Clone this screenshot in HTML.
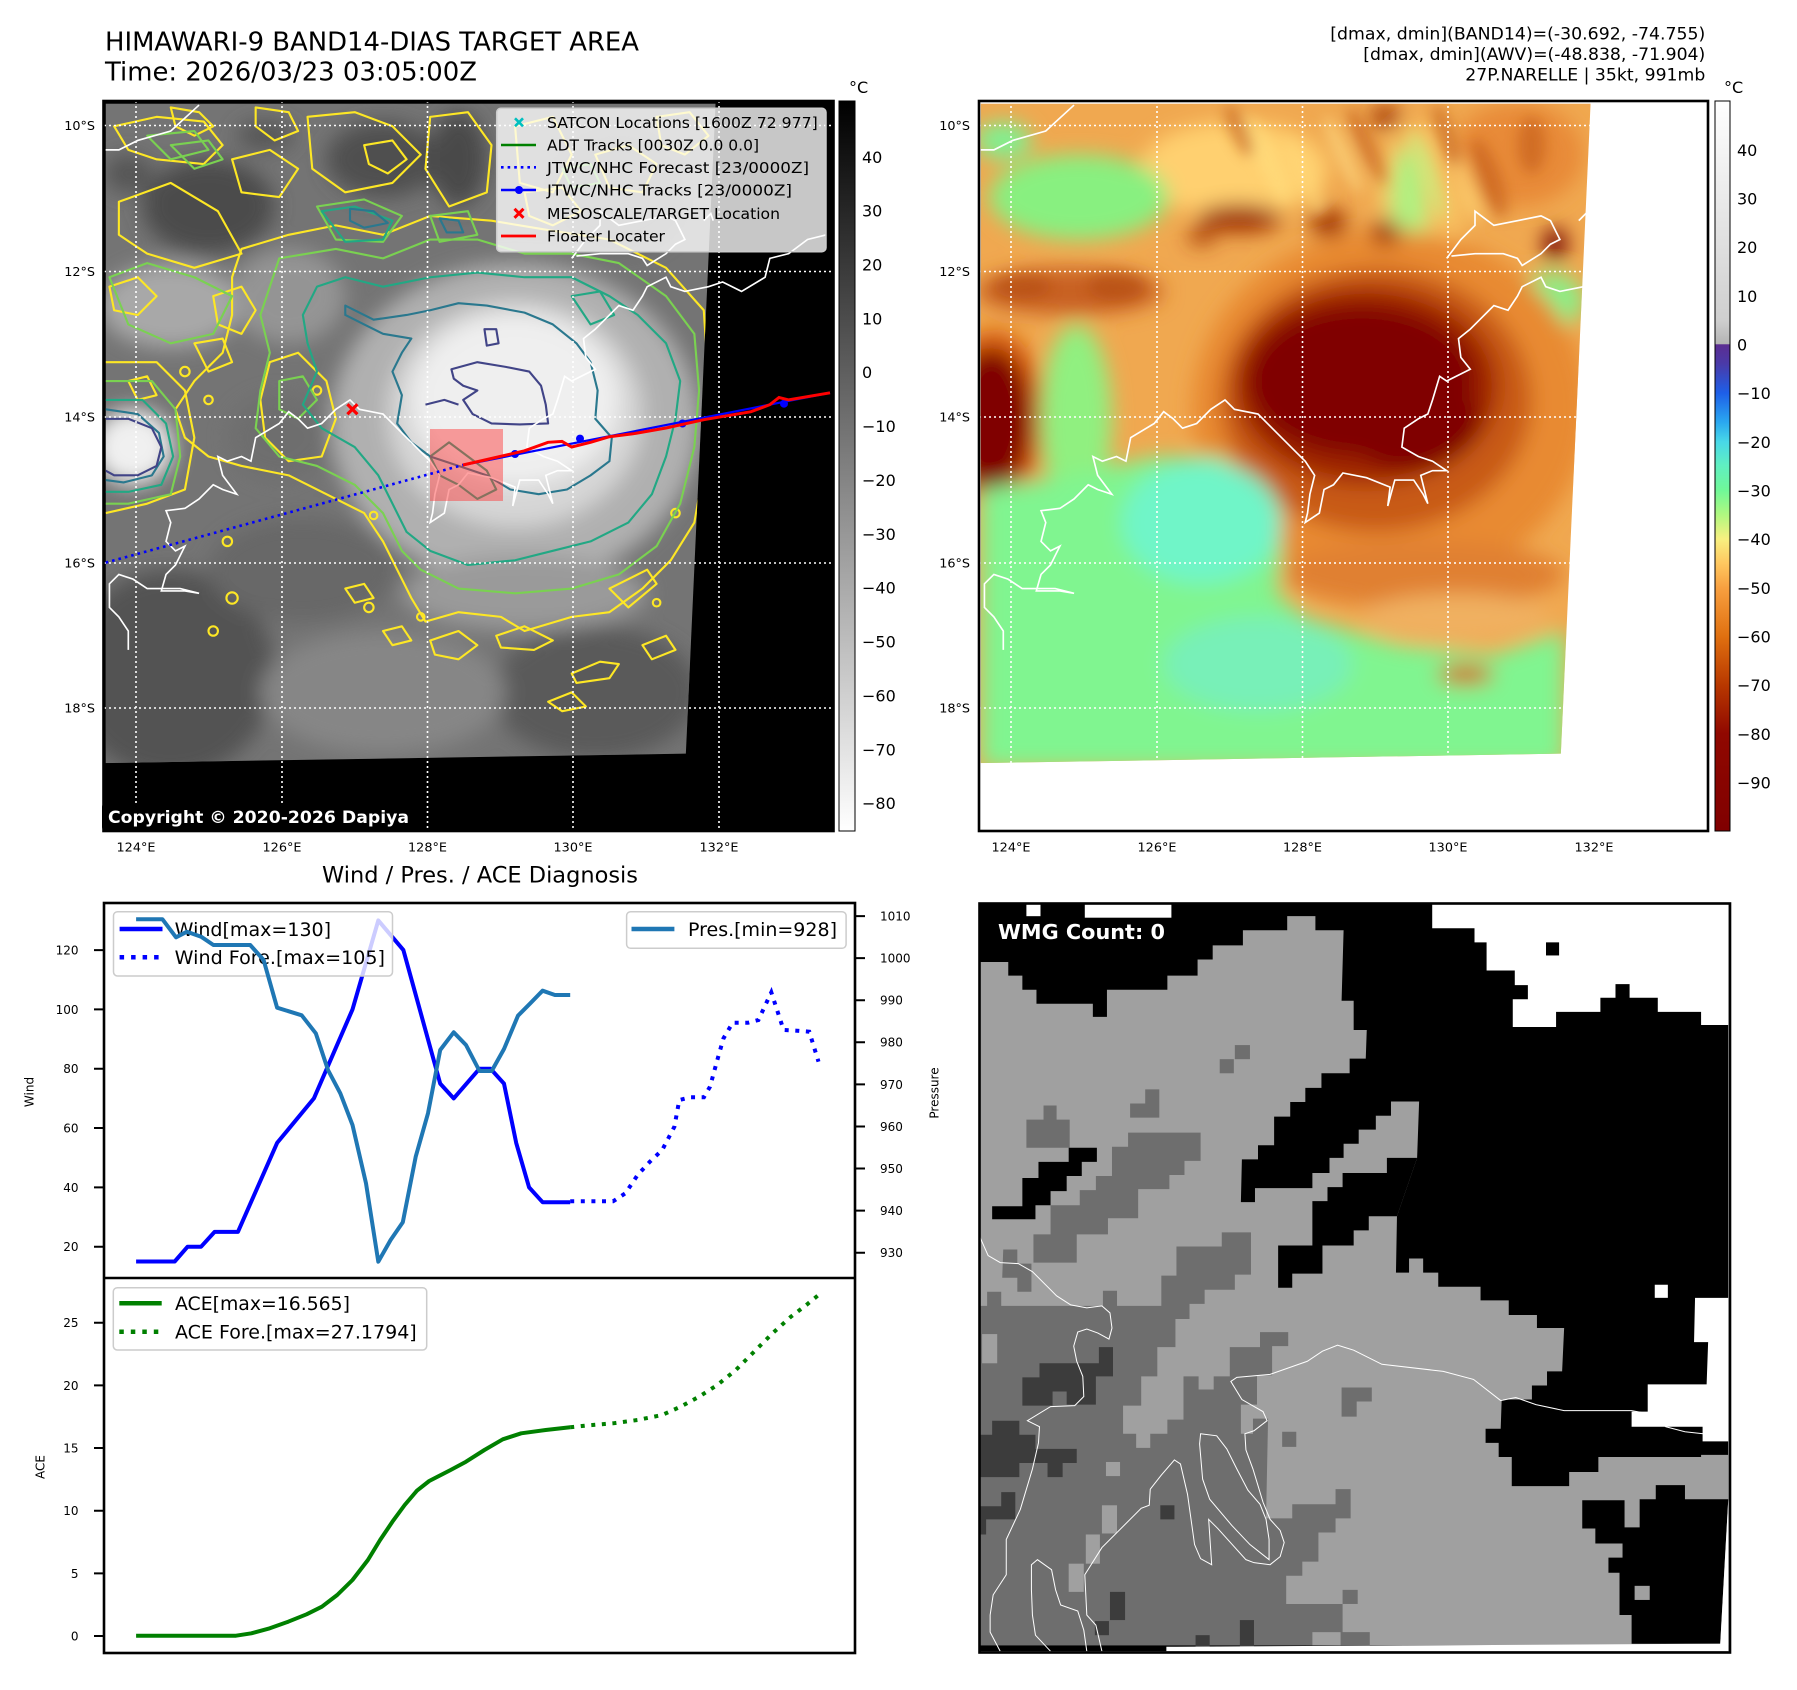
<!DOCTYPE html>
<html><head><meta charset="utf-8"><style>
html,body{margin:0;padding:0;background:#fff;}
svg{display:block;}
text{font-family:"DejaVu Sans","Liberation Sans",sans-serif;}
</style></head><body>
<svg width="1797" height="1690" viewBox="0 0 1797 1690" xmlns="http://www.w3.org/2000/svg">
<defs>
<linearGradient id="cb1" x1="0" y1="0" x2="0" y2="1"><stop offset="0" stop-color="#000"/><stop offset="1" stop-color="#fff"/></linearGradient>
<linearGradient id="cb2" x1="0" y1="0" x2="0" y2="1">
<stop offset="0" stop-color="#ffffff"/><stop offset="0.30" stop-color="#cfcfcf"/><stop offset="0.333" stop-color="#b4b4b4"/>
<stop offset="0.3335" stop-color="#5c2d91"/><stop offset="0.36" stop-color="#4a3aa8"/><stop offset="0.40" stop-color="#1e5fe8"/>
<stop offset="0.44" stop-color="#2aa8f0"/><stop offset="0.4667" stop-color="#48d8e8"/><stop offset="0.50" stop-color="#60f0c0"/>
<stop offset="0.5333" stop-color="#70f898"/><stop offset="0.5667" stop-color="#b0f880"/><stop offset="0.60" stop-color="#f8f080"/>
<stop offset="0.6333" stop-color="#ffc860"/><stop offset="0.6667" stop-color="#f8a040"/><stop offset="0.7333" stop-color="#e07010"/>
<stop offset="0.80" stop-color="#b83800"/><stop offset="0.8667" stop-color="#900800"/><stop offset="1" stop-color="#800000"/>
</linearGradient>
<filter id="bl" x="-50%" y="-50%" width="200%" height="200%"><feGaussianBlur stdDeviation="22"/></filter>
<filter id="bl2" x="-50%" y="-50%" width="200%" height="200%"><feGaussianBlur stdDeviation="14"/></filter>
<clipPath id="dclip"><polygon points="12,12 1305,12 1242,1390 12,1410"/></clipPath>
<path id="coast" d="M60,1170 L60,1130 40,1100 20,1080 20,1030 40,1010 70,1020 100,1040 170,1040 210,1050 180,1045 130,1045 140,1010 160,990 180,950 160,960 140,940 150,900 140,875 180,870 210,850 240,820 260,830 290,840 260,800 250,760 270,770 300,760 320,770 330,720 380,690 400,665 420,680 440,700 470,690 500,660 530,640 550,660 600,670 640,710 680,750 700,770 720,800 710,840 705,880 700,900 730,880 740,830 760,820 780,795 830,805 880,825 875,865 890,810 930,810 950,840 960,860 945,800 970,790 1000,790 970,770 940,760 905,740 910,700 940,680 960,670 970,640 985,590 1000,600 1050,575 1030,550 1025,510 1050,490 1070,470 1090,450 1100,440 1130,450 1150,420 1160,400 1200,380 1210,400 1240,410 1290,400 1320,390 1360,410 1410,380 1420,340 1460,330 1500,300 1540,290 M1000,340 L1030,300 1060,270 1060,240 1100,270 1150,260 1200,250 1220,260 1240,300 1220,310 1200,330 1160,355 1150,340 1120,330 1060,330 1010,335 M12,110 L40,110 80,90 150,70 210,15 M1280,260 L1295,245 1300,260" fill="none"/>
</defs>

<!-- ===== Titles ===== -->
<text x="105" y="50.7" font-size="25.6" textLength="534" lengthAdjust="spacingAndGlyphs">HIMAWARI-9 BAND14-DIAS TARGET AREA</text>
<text x="105" y="80.7" font-size="25.6" textLength="372" lengthAdjust="spacingAndGlyphs">Time: 2026/03/23 03:05:00Z</text>
<text x="1705.3" y="39.3" font-size="17" text-anchor="end" textLength="375" lengthAdjust="spacingAndGlyphs">[dmax, dmin](BAND14)=(-30.692, -74.755)</text>
<text x="1705.3" y="60" font-size="17" text-anchor="end" textLength="342" lengthAdjust="spacingAndGlyphs">[dmax, dmin](AWV)=(-48.838, -71.904)</text>
<text x="1705.3" y="80.7" font-size="17" text-anchor="end" textLength="240" lengthAdjust="spacingAndGlyphs">27P.NARELLE | 35kt, 991mb</text>

<!-- ===== Left map ===== -->
<rect x="103.5" y="101" width="730" height="730" fill="#000"/>
<g transform="translate(100,98) scale(0.4717)">
 <g clip-path="url(#dclip)">
  <rect x="0" y="0" width="1320" height="1420" fill="#747474"/>
  <g filter="url(#bl)">
   <ellipse cx="230" cy="230" rx="140" ry="100" fill="#4c4c4c"/>
   <ellipse cx="600" cy="130" rx="120" ry="80" fill="#505050"/>
   <ellipse cx="760" cy="130" rx="60" ry="100" fill="#4a4a4a"/>
   <ellipse cx="350" cy="80" rx="60" ry="30" fill="#555"/>
   <ellipse cx="60" cy="160" rx="50" ry="40" fill="#555"/>
   <ellipse cx="1100" cy="200" rx="150" ry="130" fill="#686868"/>
   <ellipse cx="150" cy="440" rx="150" ry="90" fill="#a8a8a8"/>
   <ellipse cx="400" cy="420" rx="120" ry="100" fill="#949494"/>
   <ellipse cx="150" cy="1220" rx="220" ry="220" fill="#525252"/>
   <ellipse cx="1050" cy="1260" rx="220" ry="140" fill="#5a5a5a"/>
   <ellipse cx="600" cy="1260" rx="260" ry="130" fill="#868686"/>
   <ellipse cx="430" cy="1000" rx="200" ry="110" fill="#686868"/>
   <ellipse cx="380" cy="720" rx="110" ry="90" fill="#6e6e6e"/>
   <ellipse cx="880" cy="690" rx="390" ry="340" fill="#b0b0b0"/>
   <ellipse cx="900" cy="1050" rx="260" ry="80" fill="#9a9a9a"/>
   <ellipse cx="880" cy="670" rx="270" ry="240" fill="#d6d6d6"/>
   <ellipse cx="880" cy="640" rx="220" ry="180" fill="#efefef"/>
   <ellipse cx="70" cy="740" rx="85" ry="80" fill="#f0f0f0"/>
  </g>
  <g fill="none" stroke-width="4.5" stroke-linejoin="round">
   <g stroke="#fde725">
    <path d="M300,320 L400,290 500,270 600,290 700,250 830,260 950,280 1080,300 1200,360 1280,450 1290,600 1285,760 1260,900 1210,980 1150,1040 1080,1090 1000,1100 900,1130 850,1100 760,1090 690,1110 660,1060 630,1000 600,940 560,880 480,840 400,800 300,780 230,760 180,720 160,660 200,600 260,540 280,460 280,380 Z"/>
    <path d="M12,560 L120,560 180,620 200,720 180,830 100,860 12,880"/>
    <path d="M30,60 L120,40 220,50 260,100 220,140 120,130 60,110 Z"/>
    <path d="M280,130 L360,110 420,150 380,210 300,200 Z"/>
    <path d="M40,220 L150,180 250,240 300,330 200,360 100,330 40,290 Z"/>
    <path d="M440,40 L540,30 620,60 680,120 620,180 520,200 450,150 Z"/>
    <path d="M700,40 L780,30 830,100 820,200 740,230 690,150 Z"/>
    <path d="M880,60 L960,40 1000,120 960,200 890,180 Z"/>
    <path d="M360,560 L420,540 480,600 500,680 470,760 400,770 350,720 340,640 Z"/>
    <path d="M1000,1220 L1060,1195 1100,1200 1080,1230 1010,1240 Z"/>
    <path d="M840,1140 L900,1120 960,1150 920,1170 850,1165 Z"/>
    <path d="M1080,1040 L1160,1000 1180,1030 1120,1080 Z"/>
    <path d="M150,20 L210,30 240,60 200,80 160,60 Z"/>
    <path d="M330,20 L400,30 420,70 370,90 330,60 Z"/>
    <path d="M560,100 L620,90 650,130 610,160 570,140 Z"/>
    <path d="M900,200 L980,190 1020,240 960,270 910,250 Z"/>
    <path d="M1050,120 L1120,100 1180,140 1150,200 1080,190 Z"/>
    <path d="M1180,40 L1250,30 1290,80 1240,120 1190,100 Z"/>
    <path d="M20,400 L80,380 120,420 80,460 30,450 Z"/>
    <path d="M240,420 L300,400 330,450 300,500 250,480 Z"/>
    <path d="M200,520 L260,510 280,560 230,580 Z"/>
    <path d="M700,1150 L760,1130 800,1160 760,1190 710,1180 Z"/>
    <path d="M1150,1160 L1200,1140 1220,1170 1170,1190 Z"/>
    <path d="M520,1040 L560,1030 580,1060 540,1070 Z"/>
    <path d="M950,1280 L1000,1260 1030,1290 980,1300 Z"/>
    <path d="M600,1130 L640,1120 660,1150 620,1160 Z"/>
    <path d="M60,600 L100,590 120,630 80,640 Z"/>
    <circle cx="280" cy="1060" r="12"/><circle cx="240" cy="1130" r="10"/><circle cx="570" cy="1080" r="10"/><circle cx="580" cy="885" r="8"/><circle cx="270" cy="940" r="10"/><circle cx="1180" cy="1070" r="8"/>
    <circle cx="180" cy="580" r="10"/><circle cx="230" cy="640" r="9"/><circle cx="460" cy="620" r="9"/><circle cx="1220" cy="880" r="9"/><circle cx="680" cy="1100" r="8"/>
   </g>
   <g stroke="#7ad151">
    <path d="M380,340 L500,320 600,340 700,300 800,300 900,330 1000,330 1100,350 1200,420 1260,500 1270,620 1260,740 1230,860 1180,950 1100,1010 1000,1040 880,1050 760,1040 680,1000 640,960 600,880 540,820 460,780 380,760 330,700 340,620 360,540 340,460 Z"/>
    <path d="M460,230 L560,215 640,250 600,305 500,300 Z"/>
    <path d="M700,250 L780,240 800,290 720,305 Z"/>
    <path d="M100,80 L200,70 230,110 150,130 Z"/>
    <path d="M20,380 L100,350 200,380 280,420 240,500 150,520 60,480 Z"/>
    <path d="M12,600 L110,600 160,660 170,760 150,840 60,860 12,860"/>
    <path d="M150,100 L230,90 260,130 200,150 Z"/>
    <path d="M980,150 L1040,140 1060,180 1000,190 Z"/>
    <path d="M380,600 L430,590 460,640 420,680 380,660 Z"/>
   </g>
   <g stroke="#22a884">
    <path d="M460,400 L520,380 600,400 700,380 800,370 900,380 1000,380 1080,420 1140,460 1200,520 1230,600 1220,680 1200,760 1170,840 1120,900 1040,940 960,960 880,980 780,990 700,960 650,920 620,860 590,800 540,740 470,700 430,650 460,580 440,520 430,460 Z"/>
    <path d="M12,640 L90,640 140,690 155,760 130,820 60,835 12,835"/>
    <path d="M470,240 L540,230 620,260 600,300 520,305 Z"/>
    <path d="M700,760 L740,730 780,760 820,790 840,830 800,850 760,820 720,800 Z"/>
    <path d="M1000,420 L1060,410 1090,460 1040,480 Z"/>
   </g>
   <g stroke="#2a788e">
    <path d="M520,440 L580,470 650,460 700,450 760,435 820,440 900,455 960,480 1010,520 1040,560 1055,620 1050,680 1085,720 1080,770 1040,800 990,830 930,840 870,830 820,800 760,780 700,760 660,730 630,690 640,630 620,580 640,540 660,510 600,500 560,480 520,460 Z"/>
    <path d="M530,235 L580,240 610,265 560,275 530,260 Z"/>
    <path d="M720,255 L760,260 770,285 735,285 Z"/>
    <path d="M12,660 L80,670 125,710 135,760 110,800 50,815 12,810"/>
   </g>
   <g stroke="#414487">
    <path d="M745,575 L800,560 860,570 910,580 935,610 945,650 950,690 890,692 830,690 790,670 770,640 800,620 770,610 750,595 Z"/>
    <path d="M815,490 L840,490 845,520 820,525 Z"/>
    <path d="M12,680 L60,680 110,700 130,740 120,780 80,800 30,800 12,790"/>
    <path d="M690,650 L730,640 760,650"/>
   </g>
  </g>
 </g>
 <use href="#coast" stroke="#fff" stroke-width="3.5"/>
</g>
<!-- gridlines left -->
<g stroke="#fff" stroke-width="1.6" stroke-dasharray="2 3" fill="none">
 <path d="M136,101V831 M282,101V831 M427.5,101V831 M573,101V831 M719,101V831"/>
 <path d="M104,125.5H833 M104,271.5H833 M104,417H833 M104,563H833 M104,708H833"/>
</g>
<!-- tracks -->
<rect x="430" y="429" width="73" height="72" fill="#ff3030" fill-opacity="0.45"/>
<polyline points="105.7,562.6 468,463.6" fill="none" stroke="#0000ff" stroke-width="2.6" stroke-dasharray="2.6 4"/>
<polyline points="463,465 830,392.8" fill="none" stroke="#0000ff" stroke-width="2.2"/>
<g fill="#0000ff"><circle cx="515" cy="454" r="4"/><circle cx="580" cy="438.6" r="4"/><circle cx="682.5" cy="423.5" r="4"/><circle cx="784" cy="403.7" r="4"/></g>
<polyline points="463,465 524.5,450.8 548,442.3 562,441.4 571.7,447 590.6,442.3 609.4,436.7 633,433.8 666,428 703.8,419.7 751,411.7 770,404.6 779,397.5 788.7,399.9 830,392.8" fill="none" stroke="#ff0000" stroke-width="3"/>
<path d="M347.4,404.3 L357.4,414.3 M357.4,404.3 L347.4,414.3" stroke="#ff0000" stroke-width="3.2"/>
<!-- map legend -->
<rect x="496.7" y="108.3" width="329.3" height="143.4" rx="4" fill="#fff" fill-opacity="0.78" stroke="#cccccc" stroke-width="1.5"/>
<path d="M515,118.3 L523,126.3 M523,118.3 L515,126.3" stroke="#00bfbf" stroke-width="2.6"/>
<line x1="501" y1="145" x2="536" y2="145" stroke="#008000" stroke-width="2.6"/>
<line x1="501" y1="167.3" x2="536" y2="167.3" stroke="#0000ff" stroke-width="2.6" stroke-dasharray="2.6 4"/>
<line x1="501" y1="190" x2="536" y2="190" stroke="#0000ff" stroke-width="2.4"/><circle cx="519" cy="190" r="4" fill="#0000ff"/>
<path d="M514.5,208.8 L523.5,217.8 M523.5,208.8 L514.5,217.8" stroke="#ff0000" stroke-width="3"/>
<line x1="501" y1="236" x2="536" y2="236" stroke="#ff0000" stroke-width="2.8"/>
<g font-size="15.5">
<text x="547" y="128" textLength="270.7" lengthAdjust="spacingAndGlyphs">SATCON Locations [1600Z 72 977]</text>
<text x="547" y="150.7" textLength="212" lengthAdjust="spacingAndGlyphs">ADT Tracks [0030Z 0.0 0.0]</text>
<text x="547" y="173" textLength="262" lengthAdjust="spacingAndGlyphs">JTWC/NHC Forecast [23/0000Z]</text>
<text x="547" y="195.7" textLength="245" lengthAdjust="spacingAndGlyphs">JTWC/NHC Tracks [23/0000Z]</text>
<text x="547" y="219" textLength="233" lengthAdjust="spacingAndGlyphs">MESOSCALE/TARGET Location</text>
<text x="547" y="241.7" textLength="118" lengthAdjust="spacingAndGlyphs">Floater Locater</text>
</g>
<!-- copyright -->
<rect x="102" y="803" width="310" height="28" rx="4" fill="#000"/>
<text x="108" y="823" font-size="17" font-weight="bold" fill="#fff" textLength="301" lengthAdjust="spacingAndGlyphs">Copyright © 2020-2026 Dapiya</text>
<rect x="103.5" y="101" width="730" height="730" fill="none" stroke="#000" stroke-width="2.6"/>
<!-- colorbar 1 -->
<rect x="839" y="101" width="16" height="730" fill="url(#cb1)" stroke="#000" stroke-width="1"/>
<text x="849" y="93" font-size="16">°C</text>
<g font-size="16">
<text x="862" y="162.8">40</text><text x="862" y="216.7">30</text><text x="862" y="270.5">20</text><text x="862" y="324.4">10</text><text x="862" y="378.2">0</text>
<text x="862" y="432.1">−10</text><text x="862" y="486">−20</text><text x="862" y="539.8">−30</text><text x="862" y="593.7">−40</text><text x="862" y="647.5">−50</text>
<text x="862" y="701.4">−60</text><text x="862" y="755.3">−70</text><text x="862" y="809.1">−80</text>
</g>
<!-- map lat/lon labels -->
<g font-size="12.8" text-anchor="end">
<text x="95" y="130.1">10°S</text><text x="95" y="276.1">12°S</text><text x="95" y="421.6">14°S</text><text x="95" y="567.6">16°S</text><text x="95" y="712.6">18°S</text>
<text x="970" y="130.1">10°S</text><text x="970" y="276.1">12°S</text><text x="970" y="421.6">14°S</text><text x="970" y="567.6">16°S</text><text x="970" y="712.6">18°S</text>
</g>
<g font-size="12.8" text-anchor="middle">
<text x="136" y="851.6">124°E</text><text x="282" y="851.6">126°E</text><text x="427.5" y="851.6">128°E</text><text x="573" y="851.6">130°E</text><text x="719" y="851.6">132°E</text>
<text x="1011" y="851.6">124°E</text><text x="1157" y="851.6">126°E</text><text x="1302.5" y="851.6">128°E</text><text x="1448" y="851.6">130°E</text><text x="1594" y="851.6">132°E</text>
</g>

<!-- ===== Right map ===== -->
<rect x="979" y="101" width="729" height="730" fill="#fff"/>
<g transform="translate(975,98) scale(0.4717)">
 <g clip-path="url(#dclip)">
  <rect x="0" y="0" width="1320" height="1420" fill="#f0a850"/>
  <g filter="url(#bl)">
   <ellipse cx="550" cy="150" rx="200" ry="100" fill="#ffd070"/>
   <ellipse cx="950" cy="200" rx="100" ry="150" fill="#f8c060"/>
   <ellipse cx="1150" cy="120" rx="140" ry="110" fill="#e88a38"/>
   <ellipse cx="220" cy="210" rx="190" ry="90" fill="#88f080"/>
   <ellipse cx="60" cy="90" rx="60" ry="40" fill="#80f090"/>
   <ellipse cx="920" cy="220" rx="40" ry="120" fill="#b0f080"/>
   <ellipse cx="1220" cy="430" rx="70" ry="60" fill="#88f088"/>
   <ellipse cx="1265" cy="720" rx="25" ry="50" fill="#90f080"/>
   <ellipse cx="200" cy="410" rx="200" ry="50" fill="#c86020"/>
   <ellipse cx="880" cy="660" rx="420" ry="380" fill="#e88a30"/>
   <ellipse cx="850" cy="640" rx="330" ry="280" fill="#c85a14"/>
   <ellipse cx="830" cy="610" rx="280" ry="210" fill="#a02800"/>
   <ellipse cx="820" cy="600" rx="240" ry="160" fill="#800000"/>
   <ellipse cx="920" cy="680" rx="150" ry="110" fill="#800000"/>
   <ellipse cx="40" cy="680" rx="110" ry="190" fill="#d86010"/>
   <ellipse cx="35" cy="680" rx="85" ry="150" fill="#800000"/>
   <ellipse cx="215" cy="680" rx="75" ry="200" fill="#90f080"/>
   <ellipse cx="560" cy="255" rx="90" ry="30" fill="#a03000"/>
   <ellipse cx="750" cy="265" rx="40" ry="30" fill="#a03000"/>
   <ellipse cx="870" cy="285" rx="30" ry="28" fill="#a03000"/>
   <ellipse cx="480" cy="295" rx="30" ry="15" fill="#a03000"/>
   <ellipse cx="870" cy="40" rx="30" ry="25" fill="#a03000"/>
   <ellipse cx="1230" cy="310" rx="25" ry="35" fill="#700000"/>
   <polygon points="12,830 200,800 380,760 520,760 620,840 650,950 640,1050 700,1100 900,1160 1100,1180 1250,1130 1250,1420 12,1420" fill="#80f590"/>
   <ellipse cx="480" cy="900" rx="170" ry="130" fill="#70f5c8"/>
   <ellipse cx="600" cy="1200" rx="200" ry="100" fill="#78f0b8"/>
   <ellipse cx="950" cy="1010" rx="300" ry="70" fill="#e08030"/>
   <ellipse cx="1020" cy="1100" rx="200" ry="50" fill="#f0b060"/>
   <ellipse cx="1040" cy="1222" rx="60" ry="22" fill="#d06010"/>
  </g>
  <g filter="url(#bl2)" opacity="0.55">
   <ellipse cx="620" cy="130" rx="22" ry="100" fill="#ffe080" transform="rotate(-25 620 130)"/>
   <ellipse cx="700" cy="170" rx="20" ry="90" fill="#ffd878" transform="rotate(-25 700 170)"/>
   <ellipse cx="780" cy="120" rx="18" ry="90" fill="#ffe088" transform="rotate(-25 780 120)"/>
   <ellipse cx="1040" cy="180" rx="20" ry="90" fill="#ffd878" transform="rotate(-20 1040 180)"/>
   <ellipse cx="960" cy="160" rx="18" ry="100" fill="#c8f080" transform="rotate(-20 960 160)"/>
   <ellipse cx="560" cy="70" rx="20" ry="60" fill="#c05818" transform="rotate(-25 560 70)"/>
   <ellipse cx="830" cy="100" rx="18" ry="90" fill="#c05818" transform="rotate(-25 830 100)"/>
   <ellipse cx="1000" cy="80" rx="20" ry="70" fill="#c05818" transform="rotate(-20 1000 80)"/>
   <ellipse cx="1090" cy="170" rx="25" ry="90" fill="#c05818" transform="rotate(-20 1090 170)"/>
   <ellipse cx="1180" cy="100" rx="30" ry="60" fill="#c05818"/>
   <ellipse cx="300" cy="400" rx="60" ry="30" fill="#b04810"/>
   <ellipse cx="100" cy="400" rx="60" ry="25" fill="#b04810"/>
  </g>
 </g>
 <use href="#coast" stroke="#fff" stroke-width="3.5"/>
</g>
<g stroke="#fff" stroke-width="1.6" stroke-dasharray="2 3" fill="none">
 <path d="M1011,101V831 M1157,101V831 M1302.5,101V831 M1448,101V831 M1594,101V831"/>
 <path d="M979,125.5H1708 M979,271.5H1708 M979,417H1708 M979,563H1708 M979,708H1708"/>
</g>
<rect x="979" y="101" width="729" height="730" fill="none" stroke="#000" stroke-width="2.6"/>
<!-- colorbar 2 -->
<rect x="1715" y="101" width="15" height="730" fill="url(#cb2)" stroke="#000" stroke-width="1"/>
<text x="1724" y="93" font-size="16">°C</text>
<g font-size="16">
<text x="1737" y="155.9">40</text><text x="1737" y="204.6">30</text><text x="1737" y="253.2">20</text><text x="1737" y="301.9">10</text><text x="1737" y="350.5">0</text>
<text x="1737" y="399.2">−10</text><text x="1737" y="447.9">−20</text><text x="1737" y="496.5">−30</text><text x="1737" y="545.2">−40</text><text x="1737" y="593.8">−50</text>
<text x="1737" y="642.5">−60</text><text x="1737" y="691.2">−70</text><text x="1737" y="739.8">−80</text><text x="1737" y="788.5">−90</text>
</g>

<!-- ===== Bottom-left chart ===== -->
<text x="480" y="882.7" font-size="22.3" text-anchor="middle" textLength="316" lengthAdjust="spacingAndGlyphs">Wind / Pres. / ACE Diagnosis</text>
<polyline points="136.1,1261.5 174.7,1261.5 187.6,1246.7 201.1,1246.7 214.6,1231.9 237.9,1231.9 277.1,1142.9 313.9,1098.4 352.5,1009.4 378.3,920.4 403.4,950.1 440.2,1083.6 453.7,1098.4 479.5,1068.7 490.5,1068.7 504,1083.6 516.2,1142.9 529.1,1187.4 542.6,1202.2 570.2,1202.2" fill="none" stroke="#0000ff" stroke-width="4" stroke-linejoin="round"/>
<polyline points="570.2,1201.3 613.1,1201.3 625.4,1193.3 637.6,1175 649.9,1161.7 662.2,1150 674.4,1126.7 679.3,1100 689.8,1097.3 703.9,1097.3 710,1086.7 717.3,1060 723.5,1038.3 732.7,1022.7 748,1022.7 758.4,1020 771.3,992.3 783.6,1030 797.1,1030.7 809.3,1031.7 818.5,1061.7" fill="none" stroke="#0000ff" stroke-width="4" stroke-dasharray="4 6.6"/>
<rect x="113.5" y="911.7" width="279" height="64.3" rx="4" fill="#fff" fill-opacity="0.8" stroke="#cccccc" stroke-width="1.5"/>
<line x1="119.6" y1="929" x2="162.5" y2="929" stroke="#0000ff" stroke-width="4.5"/>
<line x1="119.6" y1="957.3" x2="162.5" y2="957.3" stroke="#0000ff" stroke-width="4.5" stroke-dasharray="4.5 7"/>
<text x="174.7" y="935.8" font-size="19" textLength="156.4" lengthAdjust="spacingAndGlyphs">Wind[max=130]</text>
<text x="174.7" y="964.1" font-size="19" textLength="210.3" lengthAdjust="spacingAndGlyphs">Wind Fore.[max=105]</text>
<polyline points="136.1,919.3 162.5,919.3 176,937.3 187,931.7 201.1,936.7 213.4,945 250.2,945 263.6,960 277.1,1007.7 301.7,1015.3 315.8,1033.3 328,1070 340.3,1093.3 352.5,1125 366,1183.3 378.3,1261.7 390.6,1240 402.8,1222.3 415.7,1156.7 428,1113.3 440.2,1050 453.7,1032.3 466,1045 479.5,1071 491.7,1071 504,1049 518,1015.7 530.3,1003.3 542.6,990.7 554.9,995 570.2,995" fill="none" stroke="#1f77b4" stroke-width="4" stroke-linejoin="round"/>
<rect x="626.6" y="911.7" width="219.5" height="36.6" rx="4" fill="#fff" fill-opacity="0.8" stroke="#cccccc" stroke-width="1.5"/>
<line x1="631.5" y1="929" x2="674.4" y2="929" stroke="#1f77b4" stroke-width="4.5"/>
<text x="688" y="935.8" font-size="19" textLength="149" lengthAdjust="spacingAndGlyphs">Pres.[min=928]</text>
<polyline points="136.1,1635.7 236,1635.7 251.4,1633.3 269.8,1628.3 288.2,1621.7 306.6,1614.3 321.9,1606.7 337.2,1595 352.5,1580 367.9,1560 380.1,1540 392.4,1521.7 404.7,1505 416.9,1490.7 429.2,1481 450.6,1470 466,1461.7 484.4,1450 502.8,1439.3 521.2,1433.3 545.7,1430 570.2,1427.3" fill="none" stroke="#008000" stroke-width="4" stroke-linejoin="round"/>
<polyline points="570.2,1427.3 588.6,1425.3 613.1,1423.3 637.6,1420 662.2,1415 680.6,1406.7 699,1396.7 717.3,1385 735.8,1370 754.1,1351.7 772.5,1333.3 790.9,1316.7 806.3,1305 818.5,1295" fill="none" stroke="#008000" stroke-width="4" stroke-dasharray="4 6.6"/>
<rect x="113.3" y="1287.7" width="313.4" height="62.3" rx="4" fill="#fff" fill-opacity="0.8" stroke="#cccccc" stroke-width="1.5"/>
<line x1="119.3" y1="1303.3" x2="161.7" y2="1303.3" stroke="#008000" stroke-width="4.5"/>
<line x1="119.3" y1="1331.7" x2="161.7" y2="1331.7" stroke="#008000" stroke-width="4.5" stroke-dasharray="4.5 7"/>
<text x="175" y="1310.1" font-size="19" textLength="175" lengthAdjust="spacingAndGlyphs">ACE[max=16.565]</text>
<text x="175" y="1338.5" font-size="19" textLength="241.7" lengthAdjust="spacingAndGlyphs">ACE Fore.[max=27.1794]</text>
<rect x="104" y="903" width="751" height="750" fill="none" stroke="#000" stroke-width="2.6"/>
<line x1="104" y1="1278" x2="855" y2="1278" stroke="#000" stroke-width="2.6"/>
<g stroke="#000" stroke-width="2">
<path d="M94,1246.7H104 M94,1187.4H104 M94,1128H104 M94,1068.7H104 M94,1009.4H104 M94,950.1H104"/>
<path d="M855,1252.7H865 M855,1210.6H865 M855,1168.5H865 M855,1126.5H865 M855,1084.4H865 M855,1042.3H865 M855,1000.2H865 M855,958.1H865 M855,916.1H865"/>
<path d="M94,1636H104 M94,1573.4H104 M94,1510.7H104 M94,1448H104 M94,1385.4H104 M94,1322.8H104"/>
</g>
<g font-size="12" text-anchor="end">
<text x="78.5" y="1251.1">20</text><text x="78.5" y="1191.8">40</text><text x="78.5" y="1132.4">60</text><text x="78.5" y="1073.1">80</text><text x="78.5" y="1013.8">100</text><text x="78.5" y="954.5">120</text>
<text x="78.5" y="1640.4">0</text><text x="78.5" y="1577.8">5</text><text x="78.5" y="1515.1">10</text><text x="78.5" y="1452.4">15</text><text x="78.5" y="1389.8">20</text><text x="78.5" y="1327.2">25</text>
</g>
<g font-size="12">
<text x="880" y="1257.1">930</text><text x="880" y="1215">940</text><text x="880" y="1172.9">950</text><text x="880" y="1130.9">960</text><text x="880" y="1088.8">970</text>
<text x="880" y="1046.7">980</text><text x="880" y="1004.6">990</text><text x="880" y="962.5">1000</text><text x="880" y="920.5">1010</text>
</g>
<text transform="translate(33.5,1092) rotate(-90)" font-size="12" text-anchor="middle">Wind</text>
<text transform="translate(938.5,1093) rotate(-90)" font-size="12" text-anchor="middle">Pressure</text>
<text transform="translate(44.5,1467) rotate(-90)" font-size="12" text-anchor="middle">ACE</text>

<!-- ===== Bottom-right panel ===== -->
<g transform="translate(970,890) scale(0.5035)">
 <rect x="20" y="28" width="1486" height="1484" fill="#000"/>
 <polygon fill="#a0a0a0" points="20,143 76,143 76,170 104,170 104,198 132,198 132,226 244,226 244,252 272,252 272,198 392,198 392,170 452,170 452,138 482,138 482,110 542,110 542,80 630,80 630,52 686,52 686,80 742,80 738,220 762,220 762,278 788,278 892,420 888,532 848,648 846,760 872,760 872,732 900,732 900,760 930,760 930,788 1014,788 1014,815 1070,815 1070,844 1126,844 1126,870 1180,870 1176,956 1146,956 1146,984 1116,984 1116,1012 1056,1012 1054,1070 1024,1070 1024,1098 1050,1098 1050,1126 1076,1126 1076,1184 1190,1184 1190,1156 1248,1156 1248,1126 1452,1126 1452,1122 1506,1122 1506,1500 20,1500"/>
 <polygon fill="#000" points="788,278 786,335 754,335 754,364 698,364 698,393 666,393 666,421 636,421 636,450 604,450 604,507 572,507 572,535 540,535 538,620 566,620 566,592 680,592 680,562 714,562 714,532 742,532 742,504 772,504 772,476 806,476 806,448 836,448 836,420 892,420"/>
 <polygon fill="#000" points="786,270 900,270 900,420 836,420 836,448 806,448 806,335"/>
 <polygon fill="#000" points="888,532 828,532 828,562 740,562 740,590 710,590 710,618 680,618 680,706 612,706 612,790 640,790 640,762 700,762 700,706 762,706 762,676 792,676 792,648 848,648"/>
 <g fill="#6e6e6e">
  <polygon points="20,826 34,826 34,798 62,798 62,826 264,826 264,796 292,796 292,826 380,826 380,766 410,766 410,708 500,708 500,680 558,680 558,764 526,764 526,794 466,794 466,822 436,822 436,852 408,852 408,908 372,908 372,966 340,966 340,1024 304,1024 304,1080 330,1080 330,1108 358,1108 358,1080 392,1080 392,1052 424,1052 424,966 454,966 454,992 484,992 484,966 516,966 516,908 576,908 576,878 632,878 632,906 600,906 600,964 570,964 570,1022 538,1022 538,1080 562,1080 562,1050 592,1050 588,1248 640,1248 640,1220 726,1220 726,1190 756,1190 756,1248 726,1248 726,1276 692,1276 692,1334 660,1334 660,1362 628,1362 628,1418 740,1418 740,1474 794,1474 794,1500 20,1500"/>
  <polygon points="282,510 314,510 314,482 458,482 458,538 426,538 426,566 396,566 396,594 334,594 334,652 274,652 274,684 212,684 212,740 126,740 126,684 160,684 160,626 218,626 218,596 250,596 250,568 282,568"/>
  <polygon points="112,456 146,456 146,428 172,428 172,456 198,456 198,512 112,512"/>
  <polygon points="318,424 348,424 348,396 376,396 376,452 318,452"/>
  <rect x="526" y="308" width="30" height="28"/><rect x="496" y="336" width="28" height="28"/>
  <polygon points="66,714 94,714 94,742 122,742 122,798 94,798 94,770 64,770"/>
  <polygon points="738,988 798,988 798,1016 768,1016 768,1046 738,1046"/>
  <rect x="620" y="1076" width="28" height="30"/><rect x="740" y="1390" width="30" height="28"/>
 </g>
 <polygon fill="#000" points="44,628 104,628 104,572 136,572 136,540 196,540 196,512 252,512 252,540 222,540 222,568 192,568 192,598 160,598 160,626 130,626 130,654 44,654"/>
 <g fill="#a0a0a0">
  <rect x="24" y="882" width="30" height="58"/><rect x="270" y="1136" width="28" height="28"/><rect x="262" y="1222" width="30" height="56"/>
  <rect x="230" y="1280" width="28" height="58"/><rect x="196" y="1338" width="30" height="56"/><rect x="680" y="1474" width="56" height="26"/>
 </g>
 <g fill="#3c3c3c">
  <polygon points="138,940 256,940 256,908 284,908 284,966 250,966 250,1022 192,1022 192,996 164,996 164,1024 104,1024 104,968 138,968"/>
  <polygon points="44,1054 98,1054 98,1082 130,1082 130,1110 212,1110 212,1138 184,1138 184,1166 154,1166 154,1138 98,1138 98,1166 20,1166 20,1082 44,1082"/>
  <polygon points="62,1196 90,1196 90,1250 32,1250 32,1280 20,1280 20,1224 62,1224"/>
  <rect x="378" y="1222" width="28" height="28"/><rect x="278" y="1394" width="30" height="56"/><rect x="248" y="1452" width="28" height="28"/>
  <rect x="448" y="1480" width="28" height="26"/><rect x="536" y="1450" width="28" height="56"/>
 </g>
 <polygon fill="#000" points="1216,1212 1300,1212 1300,1266 1330,1266 1330,1210 1362,1210 1362,1182 1420,1182 1420,1210 1506,1210 1490,1497 1314,1497 1314,1440 1290,1440 1290,1356 1268,1356 1268,1326 1296,1326 1296,1298 1242,1298 1242,1268 1216,1268"/>
 <rect x="1320" y="1382" width="30" height="28" fill="#a0a0a0"/>
 <g fill="#fff">
  <polygon points="918,28 1506,28 1506,268 1452,268 1452,242 1366,242 1366,214 1310,214 1310,187 1282,187 1282,214 1252,214 1252,242 1164,242 1164,272 1078,272 1078,217 1108,217 1108,189 1082,189 1082,160 1026,160 1026,104 1002,104 1002,76 918,76"/>
  <rect x="112" y="28" width="28" height="24"/><rect x="228" y="28" width="172" height="27"/>
  <polygon points="1440,810 1506,810 1506,1095 1455,1095 1455,1066 1314,1066 1314,1036 1346,1036 1346,982 1463,982 1466,898 1438,898"/>
  <rect x="1360" y="784" width="26" height="26"/>
  <polygon points="1506,1210 1506,1512 390,1512 390,1503 1490,1497"/>
 </g>
 <rect x="1144" y="104" width="26" height="26" fill="#000"/>
 <g fill="none" stroke="#fff" stroke-width="2">
  <path d="M20,690 L36,726 60,740 96,742 124,758 172,806 200,824 232,830 262,826 278,840 282,870 276,892 254,880 232,872 214,878 206,906 212,936 224,966 226,1006 208,1024 160,1026 114,1054 138,1066 136,1098 124,1150 100,1230 72,1290 72,1360 46,1400 40,1440 40,1474 60,1512"/>
  <path d="M262,1512 L250,1460 232,1440 228,1360 262,1306 340,1228 356,1222 358,1190 380,1162 406,1132 418,1140 432,1200 446,1300 458,1328 480,1340 474,1250 492,1268 548,1330 564,1336 596,1340 616,1324 624,1296 616,1272 596,1250 582,1216 562,1150 548,1112 546,1080 564,1074 590,1054 582,1036 540,1012 518,976 530,968 596,962 670,936 700,916 730,904 762,914 818,942 940,956 1000,972 1054,1014 1084,1008 1124,1022 1180,1034 1314,1034 1346,1040 1382,1066 1420,1076 1456,1080"/>
  <path d="M458,1080 L490,1084 510,1110 530,1150 552,1192 576,1220 588,1250 594,1290 594,1330 556,1300 520,1262 476,1210 462,1170 456,1100 Z"/>
  <path d="M160,1512 L130,1480 124,1440 122,1390 122,1340 134,1330 162,1350 170,1390 180,1420 214,1432 226,1470 232,1512"/>
 </g>
</g>
<text x="998" y="939" font-size="20" font-weight="bold" fill="#fff" textLength="167" lengthAdjust="spacingAndGlyphs">WMG Count: 0</text>
<rect x="979.5" y="903.5" width="750.5" height="749" fill="none" stroke="#000" stroke-width="2.6"/>
</svg>
</body></html>
